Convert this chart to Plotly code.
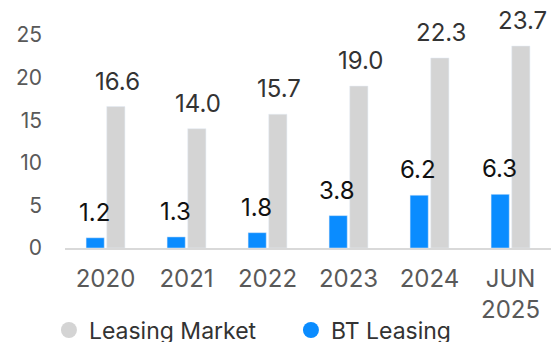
import plotly.graph_objects as go

# Leasing volumes by year
categories = ["2020", "2021", "2022", "2023", "2024", "JUN<br>2025"]
bt_leasing = [1.2, 1.3, 1.8, 3.8, 6.2, 6.3]
leasing_market = [16.6, 14.0, 15.7, 19.0, 22.3, 23.7]
y_ticks = [0, 5, 10, 15, 20, 25]

BLUE = "#0A8CFF"
GREY = "#D4D4D4"
FONT = "Inter"

fig = go.Figure()

fig.add_trace(go.Bar(x=categories, y=bt_leasing, name="BT Leasing",
                     marker_color=BLUE, showlegend=False))
fig.add_trace(go.Bar(x=categories, y=leasing_market, name="Leasing Market",
                     marker_color=GREY, showlegend=False))

# round legend markers
fig.add_trace(go.Scatter(x=[None], y=[None], mode="markers", name="BT Leasing",
                         marker=dict(color=BLUE, size=20, symbol="circle")))
fig.add_trace(go.Scatter(x=[None], y=[None], mode="markers", name="Leasing Market",
                         marker=dict(color=GREY, size=20, symbol="circle")))

# value labels above each bar (x given as category index)
annotations = []
for i, v in enumerate(bt_leasing):
    annotations.append(dict(x=i, y=v, xref="x", yref="y", text=f"{v:.1f}",
                            showarrow=False, xshift=-11.5, yshift=9,
                            yanchor="bottom",
                            font=dict(family=FONT, size=24, color="#111111")))
for i, v in enumerate(leasing_market):
    annotations.append(dict(x=i, y=v, xref="x", yref="y", text=f"{v:.1f}",
                            showarrow=False, xshift=11.5, yshift=9,
                            yanchor="bottom",
                            font=dict(family=FONT, size=24, color="#333333")))

fig.update_layout(
    width=556, height=342,
    margin=dict(l=65, r=5, t=10, b=94),
    paper_bgcolor="white", plot_bgcolor="white",
    barmode="group", bargap=0.49, bargroupgap=0.12,
    font=dict(family=FONT, size=20, color="#595959"),
    annotations=annotations,
    legend=dict(orientation="h", xref="container", x=0.088, xanchor="left",
                yref="container", y=0.035, yanchor="middle",
                traceorder="reversed", entrywidth=197,
                font=dict(family=FONT, size=23, color="#333333"),
                bgcolor="rgba(0,0,0,0)"),
    showlegend=True,
)

fig.update_xaxes(type="category", categoryorder="array", categoryarray=categories,
                 range=[-0.5, len(categories) - 0.5],
                 showgrid=False, showline=True, linecolor="#D9D9D9", linewidth=1.5,
                 ticks="", ticklabelstandoff=8, automargin=False,
                 tickfont=dict(family=FONT, size=24, color="#595959"))
fig.update_yaxes(range=[0, 27.93], tickvals=y_ticks, showgrid=False, zeroline=False,
                 showline=False, ticks="", ticklabelstandoff=22, automargin=False,
                 tickfont=dict(family=FONT, size=21, color="#595959"))

fig.write_html("out.html")
